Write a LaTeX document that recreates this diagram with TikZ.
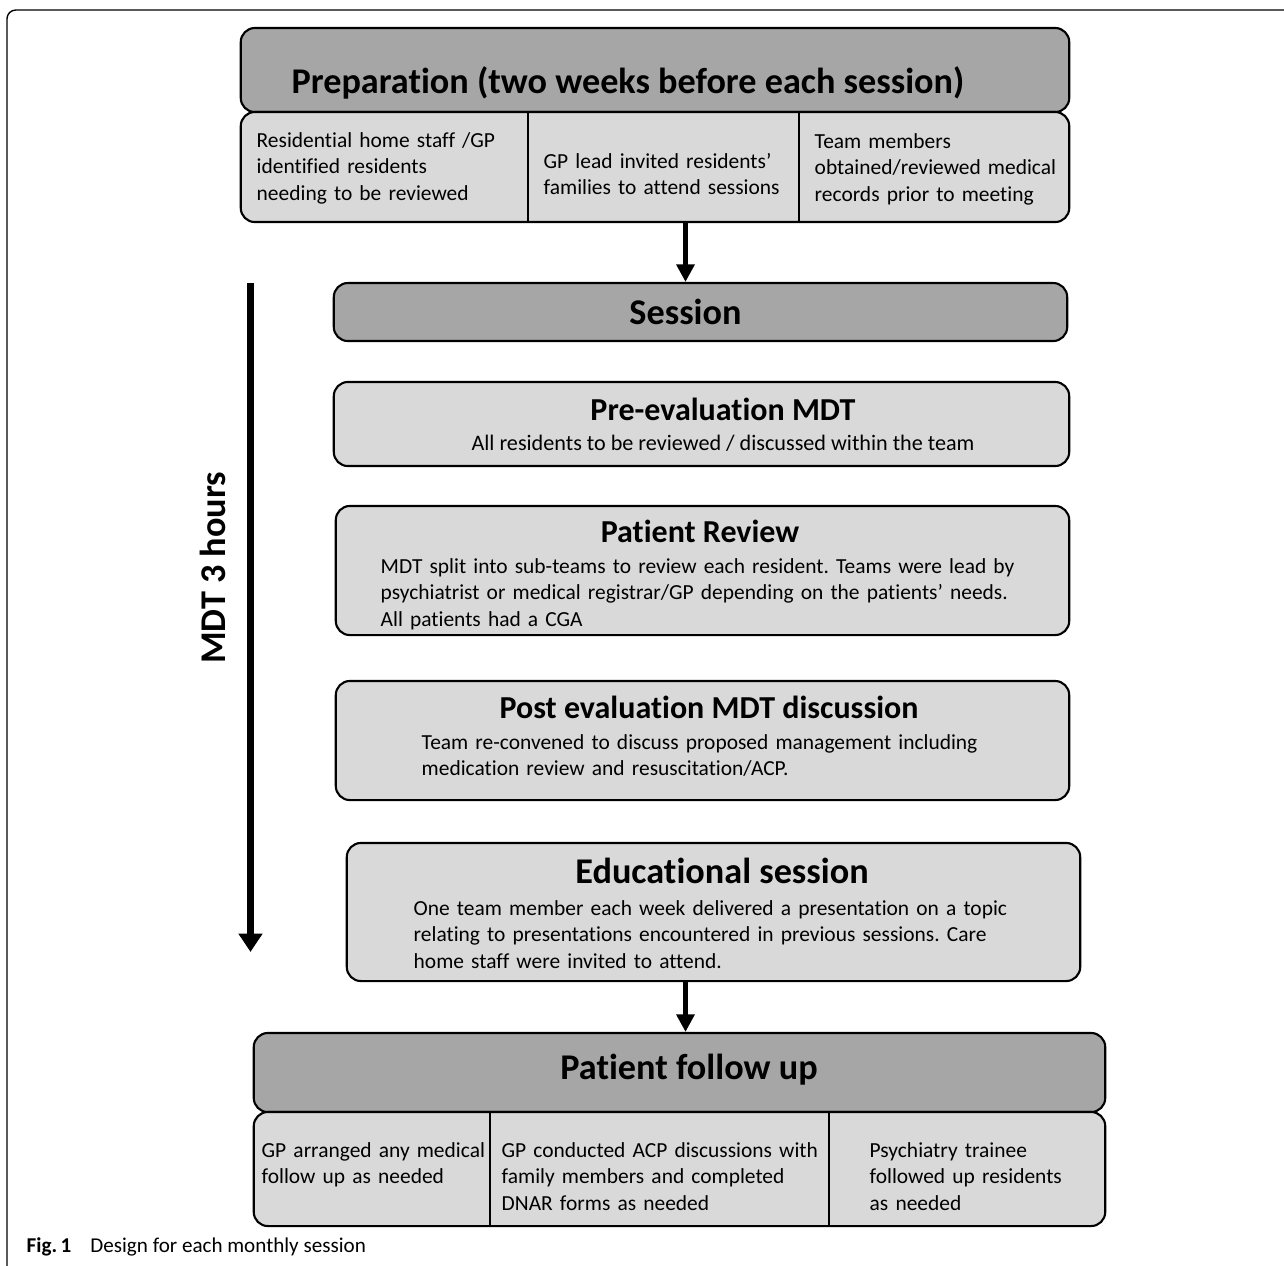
\documentclass[tikz,border=0pt]{standalone}
\usepackage{fontspec}
\setmainfont{Carlito}[Ligatures=NoCommon]
\usetikzlibrary{arrows.meta}
\definecolor{boxdark}{HTML}{A6A6A6}
\definecolor{boxlight}{HTML}{D9D9D9}
\frenchspacing

\begin{document}
\begin{tikzpicture}[x=0.01cm,y=-0.01cm,
    darkbox/.style={draw,line width=0.6pt,fill=boxdark,rounded corners=4pt,inner sep=0pt},
    lightbox/.style={draw,line width=0.6pt,fill=boxlight,rounded corners=4pt,inner sep=0pt},
    bigtitle/.style={anchor=base,inner sep=0pt,font=\fontsize{10.3}{12}\selectfont\bfseries},
    midtitle/.style={anchor=base,inner sep=0pt,font=\fontsize{9.1}{11}\selectfont\bfseries},
    bodytext/.style={anchor=base west,inner sep=0pt,text width=7cm,align=left,
        font=\fontsize{6.1}{7.6}\selectfont},
    flow/.style={line width=1.6pt,-{Triangle[width=5pt,length=5pt]}},
    timeline/.style={line width=2.1pt,-{Triangle[width=6.5pt,length=5.2pt]}}]
    \useasboundingbox (0,0) rectangle (1284,1265);

    % Frame
    \draw [line width=0.4pt,rounded corners=2.5pt] (7,1270) -- (7,10) -- (1290,10);

    % Preparation
    \node [darkbox,minimum width=8.28cm,minimum height=0.84cm] (prep) at (655,70) {};
    \node [lightbox,minimum width=8.28cm,minimum height=1.10cm] (prepcols) at (655,167) {};
    \draw [line width=0.6pt] (528,112) to (528,222);
    \draw [line width=0.6pt] (799,112) to (799,222);
    \node [bigtitle] (preptitle) at (628,93) {Preparation (two weeks before each session)};
    \node [bodytext] (prepa) at (256,147) {Residential home staff /GP\\identified residents\\needing to be reviewed};
    \node [bodytext] (prepb) at (543,168) {GP lead invited residents’\\families to attend sessions};
    \node [bodytext] (prepc) at (814,148) {Team members\\obtained/reviewed medical\\records prior to meeting};

    % Session
    \node [darkbox,minimum width=7.33cm,minimum height=0.58cm] (session) at (700.5,312) {};
    \node [bigtitle] (sessiontitle) at (685.5,324) {Session};
    \draw [flow] (sessiontitle |- prepcols.south) to (sessiontitle |- session.north);

    % Pre-evaluation MDT
    \node [lightbox,minimum width=7.35cm,minimum height=0.84cm] (preeval) at (701.5,424) {};
    \node [midtitle] (preevaltitle) at (723,420) {Pre-evaluation MDT};
    \node [anchor=base,inner sep=0pt,font=\fontsize{6.3}{7.6}\selectfont] (preevaltext) at (723,450)
        {All residents to be reviewed / discussed within the team};

    % Patient review
    \node [lightbox,minimum width=7.33cm,minimum height=1.29cm] (review) at (702.5,570.5) {};
    \node [midtitle] (reviewtitle) at (700,542) {Patient Review};
    \node [bodytext] (reviewtext) at (380,573) {MDT split into sub-teams to review each resident. Teams were lead by\\psychiatrist or medical registrar/GP depending on the patients’ needs.\\All patients had a CGA};

    % Post evaluation
    \node [lightbox,minimum width=7.33cm,minimum height=1.19cm] (posteval) at (702.5,740.5) {};
    \node [midtitle] (postevaltitle) at (709,718) {Post evaluation MDT discussion};
    \node [bodytext] (postevaltext) at (421,749) {Team re-convened to discuss proposed management including\\medication review and resuscitation/ACP.};

    % Educational session
    \node [lightbox,minimum width=7.33cm,minimum height=1.38cm] (edu) at (713.5,912) {};
    \node [bigtitle] (edutitle) at (722,883) {Educational session};
    \node [bodytext] (edutext) at (413,915) {One team member each week delivered a presentation on a topic\\relating to presentations encountered in previous sessions. Care\\home staff were invited to attend.};

    % Patient follow up
    \node [darkbox,minimum width=8.51cm,minimum height=0.79cm] (follow) at (679.5,1072.5) {};
    \node [lightbox,minimum width=8.51cm,minimum height=1.14cm] (followcols) at (679.5,1169) {};
    \draw [line width=0.6pt] (490,1112) to (490,1226);
    \draw [line width=0.6pt] (829,1112) to (829,1226);
    \node [bigtitle] (followtitle) at (689,1079) {Patient follow up};
    \node [bodytext] (followa) at (261,1157) {GP arranged any medical\\follow up as needed};
    \node [bodytext] (followb) at (501,1157) {GP conducted ACP discussions with\\family members and completed\\DNAR forms as needed};
    \node [bodytext] (followc) at (869,1157) {Psychiatry trainee\\followed up residents\\as needed};
    \draw [flow] (sessiontitle |- edu.south) to (sessiontitle |- follow.north);

    % Time line
    \coordinate (tstart) at (250.5,283);
    \coordinate (tend) at (250.5,952);
    \draw [timeline] (tstart) to (tend);
    \node [bigtitle,rotate=90] (mdt) at (225,568) {MDT 3 hours};

    % Caption
    \node [anchor=base west,inner sep=0pt,font=\fontsize{6}{7}\selectfont] (caption) at (26,1252)
        {\textbf{Fig.\,1}\hspace{0.9em}Design for each monthly session};
\end{tikzpicture}
\end{document}
